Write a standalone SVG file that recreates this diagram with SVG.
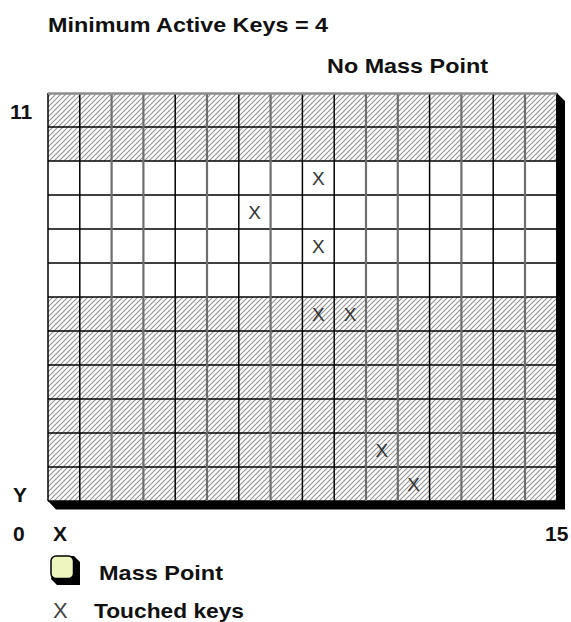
<svg xmlns="http://www.w3.org/2000/svg" width="571" height="622" viewBox="0 0 571 622">
<defs>
<pattern id="hatch" patternUnits="userSpaceOnUse" width="5" height="5">
<rect width="5" height="5" fill="#fff"/>
<path d="M0,5 L5,0 M-1,1 L1,-1 M4,6 L6,4" stroke="#929292" stroke-width="1.1"/>
</pattern>
</defs>
<style>
.lbl{font-family:"Liberation Sans",Arial,sans-serif;font-weight:bold;font-size:21px;fill:#111}
.key{font-family:"Liberation Sans",Arial,sans-serif;font-size:19px;fill:#333;text-anchor:middle}
.vb{stroke:#000;stroke-width:1.5}
.vg{stroke:#6e6e6e;stroke-width:2.2}
.h{stroke:#000;stroke-width:1.5}
</style>
<g id="title">
<text class="lbl" x="48" y="32" textLength="280" lengthAdjust="spacingAndGlyphs">Minimum Active Keys = 4</text>
<text class="lbl" x="327" y="73" textLength="161" lengthAdjust="spacingAndGlyphs">No Mass Point</text>
</g>
<g id="grid">
<polygon points="556.8,93 565,101 565,509.5 56,509.5 48,501" fill="#000"/>
<rect x="48" y="93" width="508.8" height="68" fill="url(#hatch)"/>
<rect x="48" y="161" width="508.8" height="136" fill="#fff"/>
<rect x="48" y="297" width="508.8" height="204" fill="url(#hatch)"/>
<g class="hlines">
<line class="h" x1="48" y1="127" x2="556.8" y2="127"/>
<line class="h" x1="48" y1="161" x2="556.8" y2="161"/>
<line class="h" x1="48" y1="195" x2="556.8" y2="195"/>
<line class="h" x1="48" y1="229" x2="556.8" y2="229"/>
<line class="h" x1="48" y1="263" x2="556.8" y2="263"/>
<line class="h" x1="48" y1="297" x2="556.8" y2="297"/>
<line class="h" x1="48" y1="331" x2="556.8" y2="331"/>
<line class="h" x1="48" y1="365" x2="556.8" y2="365"/>
<line class="h" x1="48" y1="399" x2="556.8" y2="399"/>
<line class="h" x1="48" y1="433" x2="556.8" y2="433"/>
<line class="h" x1="48" y1="467" x2="556.8" y2="467"/>
<line class="h" x1="48" y1="501" x2="556.8" y2="501"/>
</g>
<g class="vlines">
<line class="vb" x1="48" y1="93" x2="48" y2="501"/>
<line class="vb" x1="79.8" y1="93" x2="79.8" y2="501"/>
<line class="vg" x1="111.6" y1="93" x2="111.6" y2="501"/>
<line class="vg" x1="143.4" y1="93" x2="143.4" y2="501"/>
<line class="vb" x1="175.2" y1="93" x2="175.2" y2="501"/>
<line class="vg" x1="207" y1="93" x2="207" y2="501"/>
<line class="vb" x1="238.8" y1="93" x2="238.8" y2="501"/>
<line class="vg" x1="270.6" y1="93" x2="270.6" y2="501"/>
<line class="vb" x1="302.4" y1="93" x2="302.4" y2="501"/>
<line class="vb" x1="334.2" y1="93" x2="334.2" y2="501"/>
<line class="vg" x1="366" y1="93" x2="366" y2="501"/>
<line class="vg" x1="397.8" y1="93" x2="397.8" y2="501"/>
<line class="vb" x1="429.6" y1="93" x2="429.6" y2="501"/>
<line class="vg" x1="461.4" y1="93" x2="461.4" y2="501"/>
<line class="vb" x1="493.2" y1="93" x2="493.2" y2="501"/>
<line class="vg" x1="525" y1="93" x2="525" y2="501"/>
<line class="vb" x1="556.8" y1="93" x2="556.8" y2="501"/>
</g>
<line x1="48" y1="93.5" x2="556.8" y2="93.5" stroke="#8c8c8c" stroke-width="2.5"/>
</g>
<g id="keys">
<text class="key" x="318.3" y="185">X</text>
<text class="key" x="254.7" y="219">X</text>
<text class="key" x="318.3" y="253">X</text>
<text class="key" x="318.3" y="321">X</text>
<text class="key" x="350.1" y="321">X</text>
<text class="key" x="381.9" y="457">X</text>
<text class="key" x="413.7" y="491">X</text>
</g>
<g id="axes">
<text class="lbl" x="10" y="119">11</text>
<text class="lbl" x="13" y="502">Y</text>
<text class="lbl" x="13" y="541">0</text>
<text class="lbl" x="53" y="541">X</text>
<text class="lbl" x="545" y="541">15</text>
</g>
<g id="legend-mass">
<rect x="56.5" y="561.5" width="23" height="23" rx="5" fill="#000"/>
<polygon points="56,556 74,556 80,562 80,585 57,585 51,579" fill="#000"/>
<rect x="51" y="556" width="22.5" height="22.5" rx="5" fill="#eff5bf" stroke="#000" stroke-width="1.5"/>
<text class="lbl" x="99" y="580" textLength="124" lengthAdjust="spacingAndGlyphs">Mass Point</text>
</g>
<g id="legend-touched">
<text x="53" y="618" style="font-family:'Liberation Sans',Arial,sans-serif;font-size:22px;fill:#444">X</text>
<text class="lbl" x="94" y="618" textLength="150" lengthAdjust="spacingAndGlyphs">Touched keys</text>
</g>
</svg>
